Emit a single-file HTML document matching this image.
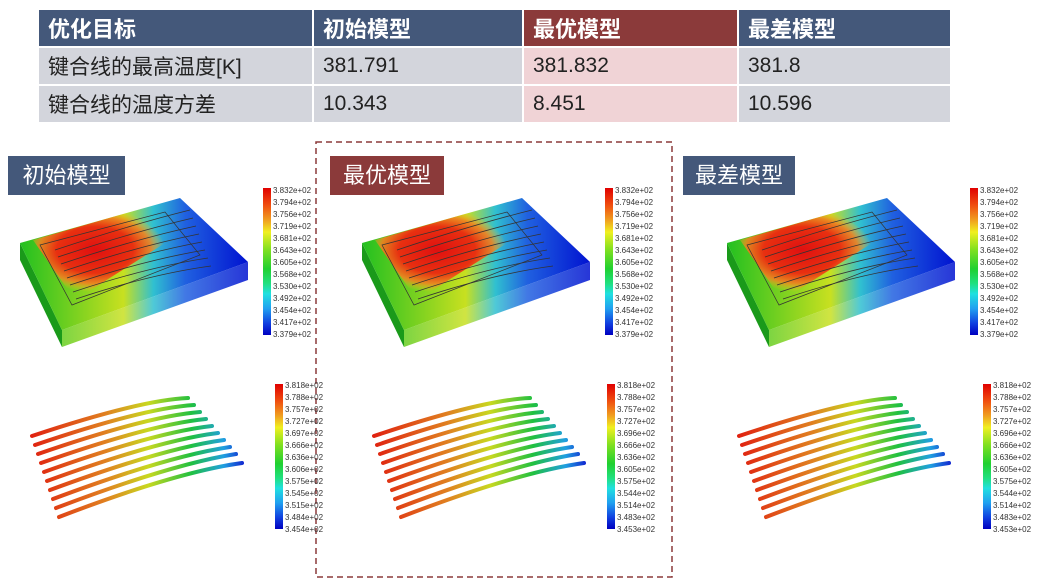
<!DOCTYPE html>
<html><head><meta charset="utf-8">
<style>
body{margin:0;width:1042px;height:581px;background:#fff;overflow:hidden;position:relative;font-family:"Liberation Sans","Noto Sans CJK SC",sans-serif}
table{position:absolute;left:37px;top:8px;border-collapse:collapse}
td{height:36px;padding:0 0 0 9px;font-size:21px;color:#222;border:2px solid #fff}
tr.h td{background:#44587a;color:#fff;font-weight:bold;font-size:22px}
tr.r td{background:#d3d5dc}
tr.r td.p{background:#f0d3d6}
tr.h td.p{background:#8b3a3a}
.lab{position:absolute;height:39px;color:#fff;font-size:22px;line-height:39px;text-align:center}
svg{position:absolute;left:0;top:0}
.cb text{font-size:8px;fill:#333;font-family:"Liberation Sans",sans-serif}
</style></head><body>
<table>
<tr class="h"><td style="width:264px">优化目标</td><td style="width:199px">初始模型</td><td class="p" style="width:204px">最优模型</td><td style="width:202px">最差模型</td></tr>
<tr class="r"><td>键合线的最高温度[K]</td><td>381.791</td><td class="p">381.832</td><td>381.8</td></tr>
<tr class="r"><td>键合线的温度方差</td><td>10.343</td><td class="p">8.451</td><td>10.596</td></tr>
</table>
<div class="lab" style="left:8px;top:156px;width:117px;background:#44587a">初始模型</div>
<div class="lab" style="left:330px;top:156px;width:114px;background:#8b3a3a">最优模型</div>
<div class="lab" style="left:683px;top:156px;width:112px;background:#44587a">最差模型</div>
<svg width="1042" height="581">
<defs>
<linearGradient id="tg" x1="20" y1="0" x2="250" y2="0" gradientUnits="userSpaceOnUse">
<stop offset="0" stop-color="#22c020"/><stop offset="0.45" stop-color="#c8e020"/><stop offset="0.58" stop-color="#30c0d0"/><stop offset="0.72" stop-color="#2060e0"/><stop offset="1" stop-color="#0010d0"/></linearGradient>
<radialGradient id="rg" cx="95" cy="250" r="70" gradientUnits="userSpaceOnUse" gradientTransform="translate(95 250) scale(1 0.6) translate(-95 -250)">
<stop offset="0" stop-color="#e01010"/><stop offset="0.55" stop-color="#e83010"/><stop offset="0.8" stop-color="#f08020" stop-opacity="0.9"/><stop offset="1" stop-color="#f0c020" stop-opacity="0"/></radialGradient>
<linearGradient id="wg" x1="30" y1="0" x2="245" y2="0" gradientUnits="userSpaceOnUse">
<stop offset="0" stop-color="#e02010"/><stop offset="0.35" stop-color="#e08020"/><stop offset="0.55" stop-color="#c8d820"/><stop offset="0.75" stop-color="#20c040"/><stop offset="0.9" stop-color="#20a0e0"/><stop offset="1" stop-color="#1020d0"/></linearGradient>
<g id="blk">
<polygon points="20,243 62,330 62,347 20,260" fill="#1a9a1a"/>
<polygon points="62,330 248,262 248,280 62,347" fill="url(#tg)" opacity="0.85"/>
<polygon points="20,243 180,198 248,262 62,330" fill="url(#tg)"/>
<polygon points="33,240 130,212 170,240 75,300" fill="url(#rg)"/>
<polygon points="40,245 165,212 200,255 72,305" fill="none" stroke="#333" stroke-width="0.7"/>
<g stroke="#333" stroke-width="0.8" fill="none">
<path d="M55,250 Q130,225 190,210"/><path d="M58,257 Q133,232 193,218"/><path d="M61,264 Q136,239 196,226"/><path d="M64,271 Q139,246 199,234"/><path d="M67,278 Q142,253 202,242"/><path d="M70,285 Q145,260 205,250"/><path d="M73,292 Q148,267 208,258"/><path d="M76,299 Q151,274 211,266"/>
</g>
</g>
<g id="wr" stroke="url(#wg)" stroke-width="4" fill="none" stroke-linecap="round">
<path d="M32,436 Q140,400 188,398"/><path d="M35,445 Q144,408 194,405"/><path d="M38,454 Q148,416 200,412"/><path d="M41,463 Q152,424 206,419"/><path d="M44,472 Q156,432 212,426"/><path d="M47,481 Q160,440 218,433"/><path d="M50,490 Q164,448 224,440"/><path d="M53,499 Q168,456 230,447"/><path d="M56,508 Q172,464 236,454"/><path d="M59,517 Q176,472 242,463"/>
</g>
<linearGradient id="cbg" x1="0" y1="0" x2="0" y2="1">
<stop offset="0" stop-color="#e00000"/><stop offset="0.12" stop-color="#f05010"/><stop offset="0.22" stop-color="#f0a020"/><stop offset="0.3" stop-color="#f0f020"/><stop offset="0.42" stop-color="#80e020"/><stop offset="0.55" stop-color="#20d030"/><stop offset="0.65" stop-color="#20e080"/><stop offset="0.72" stop-color="#20e0e0"/><stop offset="0.82" stop-color="#20a0f0"/><stop offset="0.92" stop-color="#1040e0"/><stop offset="1" stop-color="#0000c0"/></linearGradient>
</defs>
<rect x="316" y="142" width="356" height="435" fill="none" stroke="#8b3a3a" stroke-width="1.5" stroke-dasharray="6,4"/>
<use href="#blk"/><use href="#blk" transform="translate(342,0)"/><use href="#blk" transform="translate(707,0)"/>
<use href="#wr"/><use href="#wr" transform="translate(342,0)"/><use href="#wr" transform="translate(707,0)"/>
<rect x="263" y="188" width="8" height="147" fill="url(#cbg)"/><rect x="605" y="188" width="8" height="147" fill="url(#cbg)"/><rect x="970" y="188" width="8" height="147" fill="url(#cbg)"/>
<rect x="275" y="384" width="8" height="145" fill="url(#cbg)"/><rect x="607" y="384" width="8" height="145" fill="url(#cbg)"/><rect x="983" y="384" width="8" height="145" fill="url(#cbg)"/>
<g class="cb">
<g transform="translate(273,0)"><text y="193">3.832e+02</text><text y="205">3.794e+02</text><text y="217">3.756e+02</text><text y="229">3.719e+02</text><text y="241">3.681e+02</text><text y="253">3.643e+02</text><text y="265">3.605e+02</text><text y="277">3.568e+02</text><text y="289">3.530e+02</text><text y="301">3.492e+02</text><text y="313">3.454e+02</text><text y="325">3.417e+02</text><text y="337">3.379e+02</text></g>
<g transform="translate(615,0)"><text y="193">3.832e+02</text><text y="205">3.794e+02</text><text y="217">3.756e+02</text><text y="229">3.719e+02</text><text y="241">3.681e+02</text><text y="253">3.643e+02</text><text y="265">3.605e+02</text><text y="277">3.568e+02</text><text y="289">3.530e+02</text><text y="301">3.492e+02</text><text y="313">3.454e+02</text><text y="325">3.417e+02</text><text y="337">3.379e+02</text></g>
<g transform="translate(980,0)"><text y="193">3.832e+02</text><text y="205">3.794e+02</text><text y="217">3.756e+02</text><text y="229">3.719e+02</text><text y="241">3.681e+02</text><text y="253">3.643e+02</text><text y="265">3.605e+02</text><text y="277">3.568e+02</text><text y="289">3.530e+02</text><text y="301">3.492e+02</text><text y="313">3.454e+02</text><text y="325">3.417e+02</text><text y="337">3.379e+02</text></g>
<g transform="translate(285,0)"><text y="388">3.818e+02</text><text y="400">3.788e+02</text><text y="412">3.757e+02</text><text y="424">3.727e+02</text><text y="436">3.697e+02</text><text y="448">3.666e+02</text><text y="460">3.636e+02</text><text y="472">3.606e+02</text><text y="484">3.575e+02</text><text y="496">3.545e+02</text><text y="508">3.515e+02</text><text y="520">3.484e+02</text><text y="532">3.454e+02</text></g>
<g transform="translate(617,0)"><text y="388">3.818e+02</text><text y="400">3.788e+02</text><text y="412">3.757e+02</text><text y="424">3.727e+02</text><text y="436">3.696e+02</text><text y="448">3.666e+02</text><text y="460">3.636e+02</text><text y="472">3.605e+02</text><text y="484">3.575e+02</text><text y="496">3.544e+02</text><text y="508">3.514e+02</text><text y="520">3.483e+02</text><text y="532">3.453e+02</text></g>
<g transform="translate(993,0)"><text y="388">3.818e+02</text><text y="400">3.788e+02</text><text y="412">3.757e+02</text><text y="424">3.727e+02</text><text y="436">3.696e+02</text><text y="448">3.666e+02</text><text y="460">3.636e+02</text><text y="472">3.605e+02</text><text y="484">3.575e+02</text><text y="496">3.544e+02</text><text y="508">3.514e+02</text><text y="520">3.483e+02</text><text y="532">3.453e+02</text></g>
</g>
</svg>
</body></html>
